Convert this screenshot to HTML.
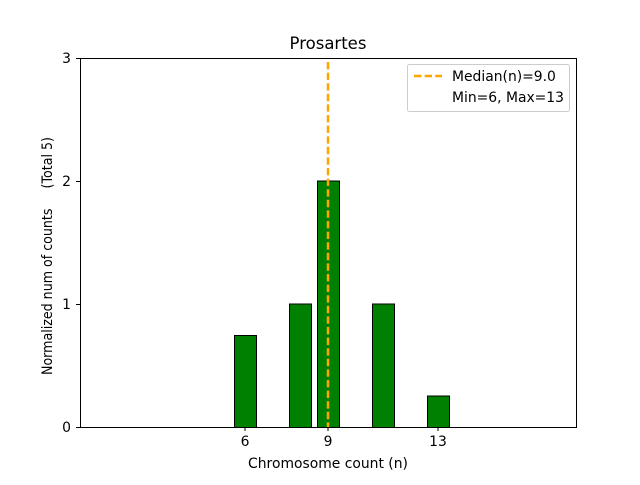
<!DOCTYPE html>
<html><head><style>body{margin:0;background:#fff}</style></head><body>
<svg width="640" height="480" xmlns="http://www.w3.org/2000/svg" font-family="DejaVu Sans, Liberation Sans, sans-serif">
<rect width="640" height="480" fill="#fff"/>
<g fill="#008000" stroke="#000" stroke-width="1">
<rect x="234.5" y="335.5" width="22" height="92"/>
<rect x="289.5" y="304" width="22" height="123.5"/>
<rect x="317.5" y="181" width="22" height="246.5"/>
<rect x="372.5" y="304" width="22" height="123.5"/>
<rect x="427.5" y="396" width="22" height="31.5"/>
</g>
<line x1="328" y1="62" x2="328" y2="427" stroke="#ffa500" stroke-width="2.5" stroke-dasharray="7.4,3.2"/>
<rect x="80.5" y="58.5" width="496" height="369" fill="none" stroke="#000" stroke-width="1"/>
<g stroke="#000">
<line x1="245" y1="427" x2="245" y2="431"/><line x1="328" y1="427" x2="328" y2="431"/><line x1="438" y1="427" x2="438" y2="431"/>
<line x1="76" y1="427.5" x2="80" y2="427.5"/><line x1="76" y1="304.5" x2="80" y2="304.5"/><line x1="76" y1="181.5" x2="80" y2="181.5"/><line x1="76" y1="58.5" x2="80" y2="58.5"/>
</g>
<g font-size="13.9" fill="#000">
<text x="245" y="446" text-anchor="middle">6</text>
<text x="328" y="446" text-anchor="middle">9</text>
<text x="438" y="446" text-anchor="middle">13</text>
<text x="71" y="432" text-anchor="end">0</text>
<text x="71" y="309" text-anchor="end">1</text>
<text x="71" y="186" text-anchor="end">2</text>
<text x="71" y="63" text-anchor="end">3</text>
<text x="328" y="468" text-anchor="middle">Chromosome count (n)</text>
<text transform="translate(52,256) rotate(-90)" text-anchor="middle" textLength="238" lengthAdjust="spacingAndGlyphs" xml:space="preserve">Normalized num of counts     (Total 5)</text>
</g>
<text x="328" y="49" font-size="16.5" text-anchor="middle">Prosartes</text>
<rect x="407.5" y="64.5" width="162" height="47" rx="2" fill="#fff" fill-opacity="0.8" stroke="#ccc"/>
<line x1="414" y1="76" x2="442" y2="76" stroke="#ffa500" stroke-width="2.5" stroke-dasharray="7.4,3.2"/>
<text x="452" y="81" font-size="13.9">Median(n)=9.0</text>
<text x="452" y="102" font-size="13.9">Min=6, Max=13</text>
</svg>
</body></html>
